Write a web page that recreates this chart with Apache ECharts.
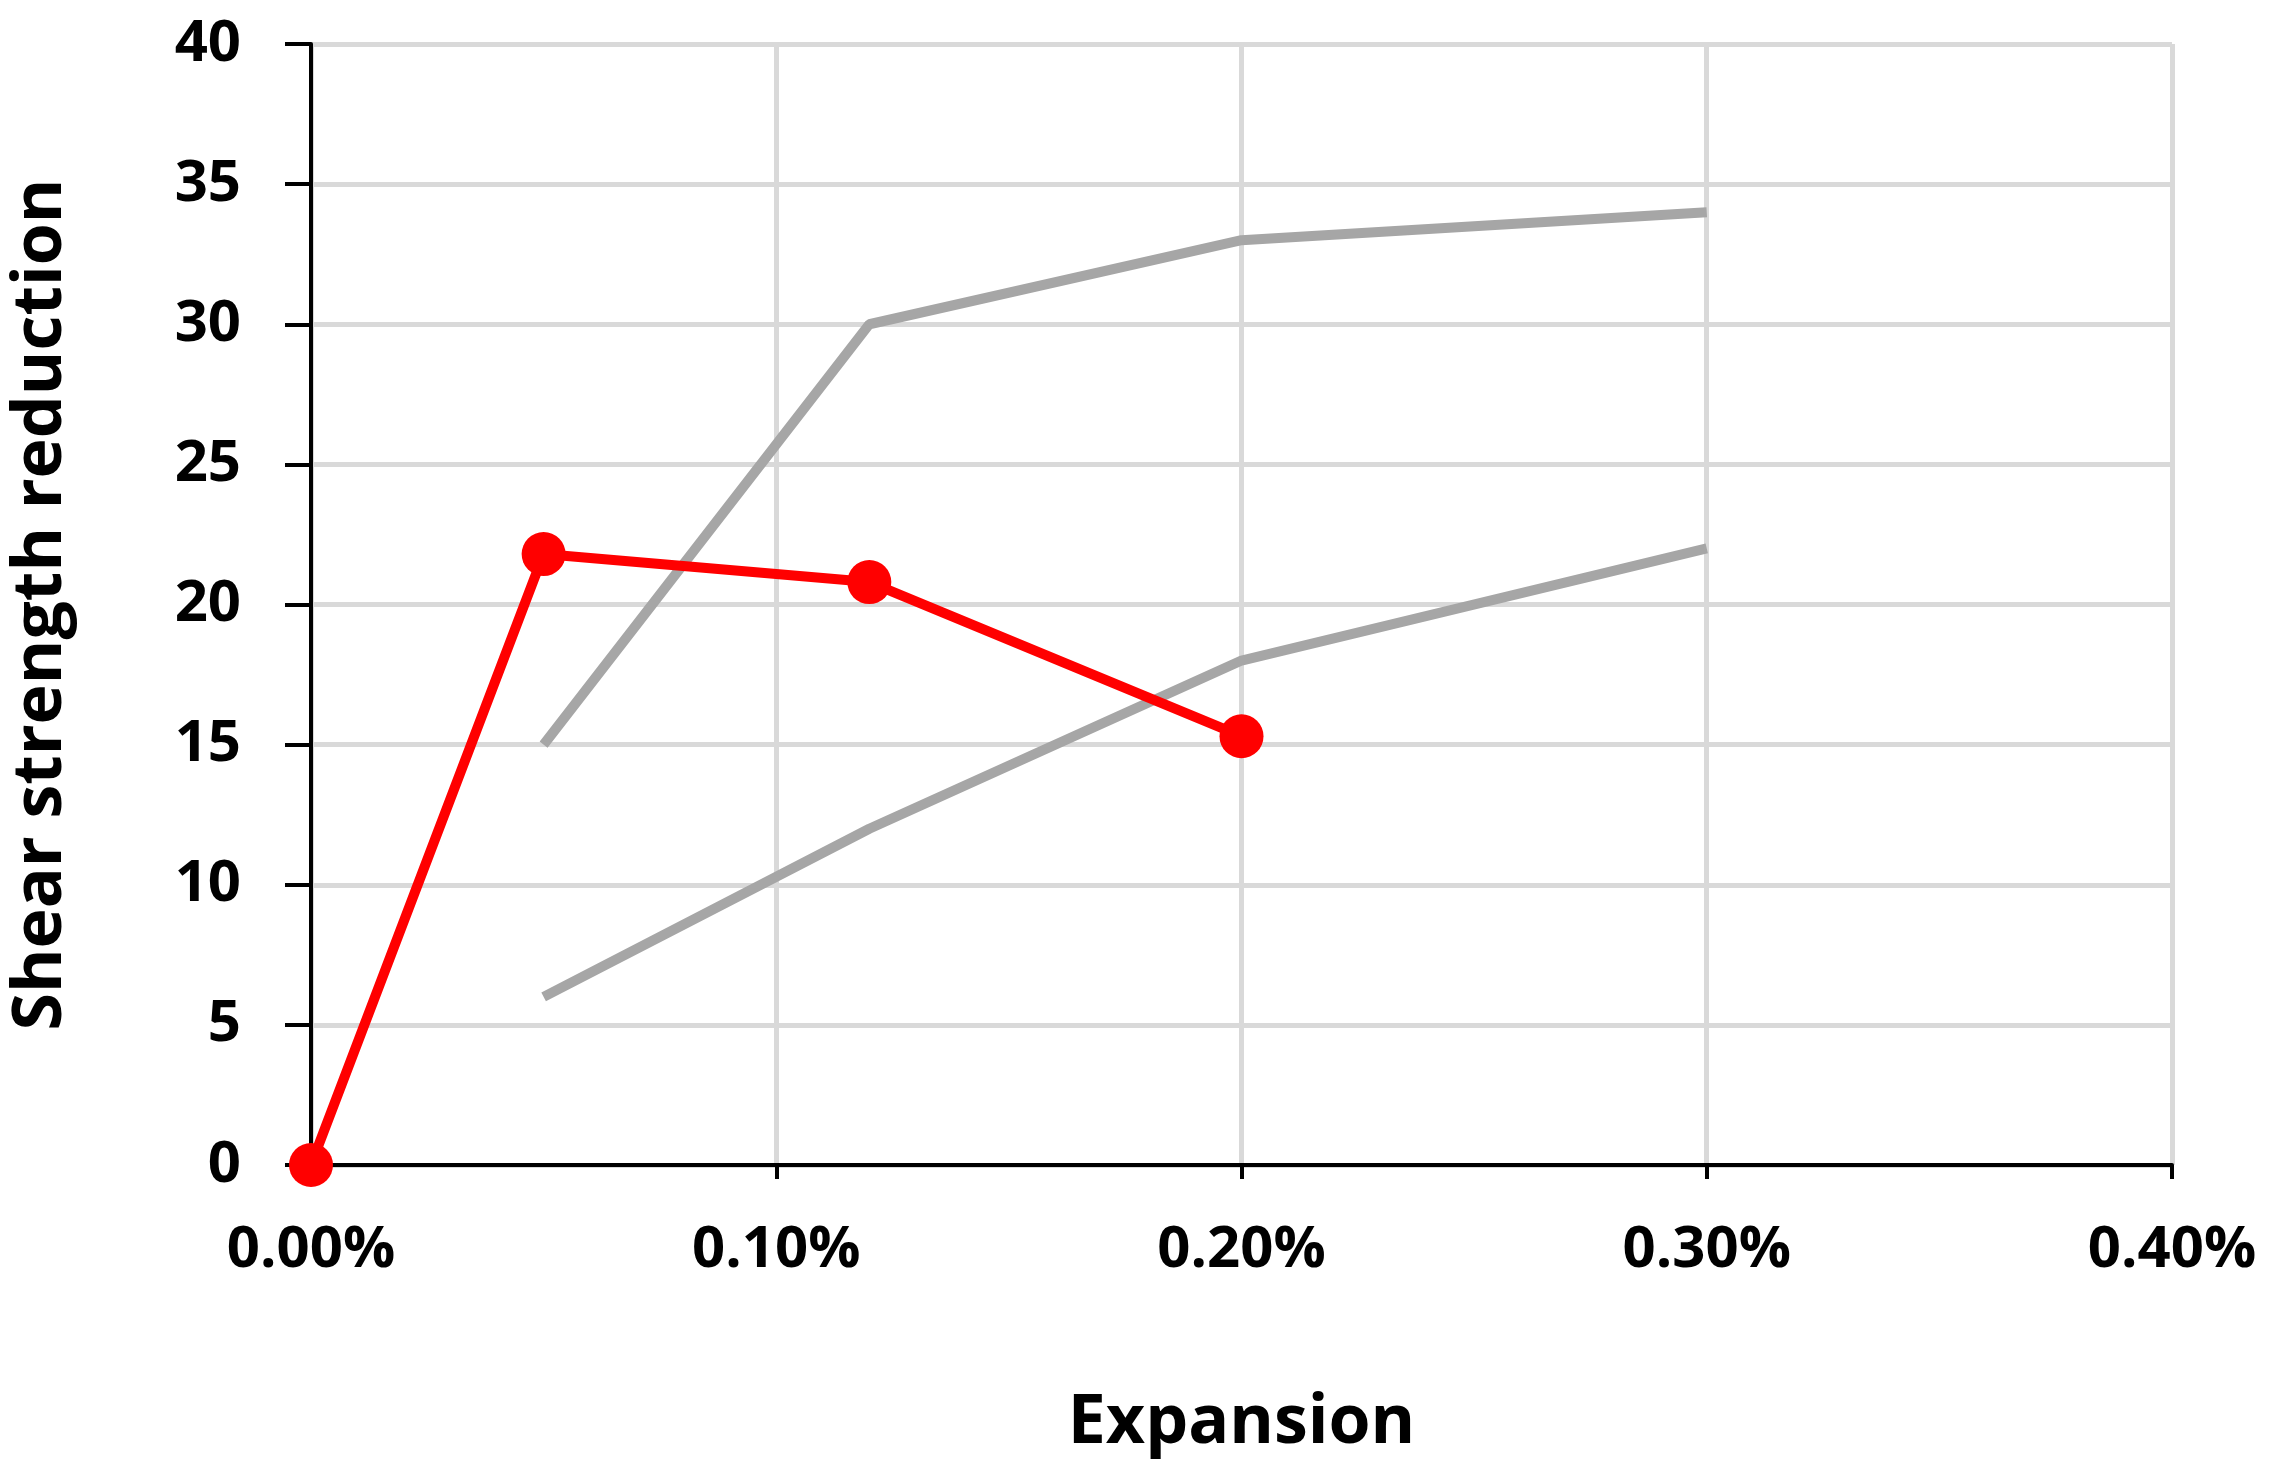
<!DOCTYPE html>
<html><head><meta charset="utf-8">
<script src="https://cdn.jsdelivr.net/npm/echarts@6/dist/echarts.min.js"></script>
<style>html,body{margin:0;background:#fff}#c{width:2291px;height:1466px}</style>
</head><body><div id="c"></div>
<script>
const redX=[0,0.05,0.12,0.2], redY=[0,21.8,20.8,15.3];
const g1X=[0.05,0.12,0.2,0.3], g1Y=[15,30,33,34];
const g2X=[0.05,0.12,0.2,0.3], g2Y=[6,12,18,22];
const zip=(a,b)=>a.map((v,i)=>[v,b[i]]);
const font='"Open Sans", "Liberation Sans", sans-serif';
const chart=echarts.init(document.getElementById('c'));
chart.setOption({
  animation:false,
  grid:{left:303,right:119,top:44,bottom:301,containLabel:false},
  xAxis:{type:'value',min:0,max:0.4,interval:0.1,
    name:'Expansion',nameLocation:'middle',nameGap:225,
    nameTextStyle:{fontFamily:font,fontWeight:'bold',fontSize:68,color:'#000'},
    axisLine:{lineStyle:{color:'#000',width:4}},
    axisTick:{show:true,length:14,lineStyle:{color:'#000',width:4}},
    axisLabel:{fontFamily:font,fontWeight:'bold',fontSize:58,color:'#000',margin:56,
      formatter:v=>v.toFixed(2)+'%'},
    splitLine:{show:true,lineStyle:{color:'#d9d9d9',width:5}}},
  yAxis:{type:'value',min:0,max:40,interval:5,
    name:'Shear strength reduction',nameLocation:'middle',nameGap:235,
    nameTextStyle:{fontFamily:font,fontWeight:'bold',fontSize:68,color:'#000'},
    axisLine:{show:true,lineStyle:{color:'#000',width:4}},
    axisTick:{show:true,length:26,lineStyle:{color:'#000',width:4}},
    axisLabel:{fontFamily:font,fontWeight:'bold',fontSize:58,color:'#000',margin:70},
    splitLine:{show:true,lineStyle:{color:'#d9d9d9',width:5}}},
  series:[
    {type:'line',data:zip(g1X,g1Y),symbol:'none',lineStyle:{color:'#a6a6a6',width:10}},
    {type:'line',data:zip(g2X,g2Y),symbol:'none',lineStyle:{color:'#a6a6a6',width:10}},
    {type:'line',data:zip(redX,redY),symbol:'circle',symbolSize:44,
      itemStyle:{color:'#ff0000'},lineStyle:{color:'#ff0000',width:10},z:5}
  ]
});
</script></body></html>
